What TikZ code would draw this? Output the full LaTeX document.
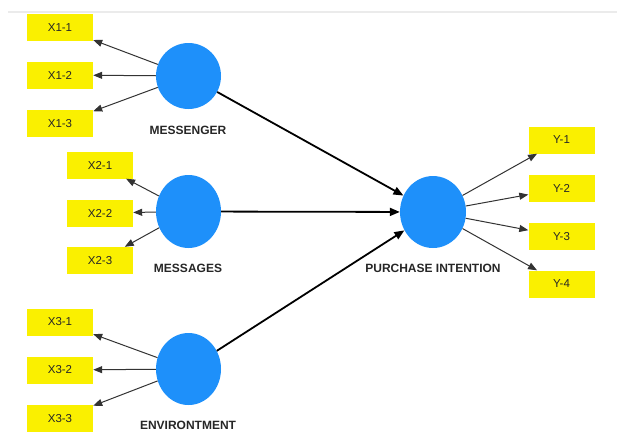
\documentclass[tikz,border=0pt]{standalone}
\usepackage{fontspec}
\setmainfont{Liberation Sans}
\usetikzlibrary{arrows.meta,shapes.geometric}
\definecolor{lvblue}{RGB}{30,144,250}
\definecolor{itemyellow}{RGB}{250,240,0}

\begin{document}
\begin{tikzpicture}[x=1pt,y=-1pt,
  latent/.style={ellipse,fill=lvblue,inner sep=0pt,minimum width=65pt,minimum height=#1},
  latent/.default=66pt,
  item/.style={fill=itemyellow,minimum width=66pt,minimum height=27pt,inner sep=0pt,font=\fontsize{11.5}{13}\selectfont,text=black!85},
  lvname/.style={font=\fontsize{12}{14}\selectfont\bfseries,text=black!85},
  load/.style={-{Triangle[length=9pt,width=7pt]},line width=1pt,black!80},
  inner/.style={-{Triangle[length=10pt,width=8pt]},line width=1.8pt}]
\useasboundingbox (0,0) rectangle (617,432);
\draw [black!8,line width=2pt] (8,12) -- (617,12);

% messenger
\node [latent] (mgr) at (188.5,76) {};
\node [lvname] (mgrlab) at (188,130) {MESSENGER};
\node [item] (x11) at (60,27.5) {X1-1};
\node [item] (x12) at (60,75) {X1-2};
\node [item] (x13) at (60,123.5) {X1-3};
\draw [load] (mgr) -- (x11);
\draw [load] (mgr) -- (x12);
\draw [load] (mgr) -- (x13);

% messages
\node [latent=73pt] (msg) at (188.5,211.5) {};
\node [lvname] (msglab) at (188,268) {MESSAGES};
\node [item] (x21) at (100,165) {X2-1};
\node [item] (x22) at (100,213) {X2-2};
\node [item] (x23) at (100,260.5) {X2-3};
\draw [load] (msg) -- (x21);
\draw [load] (msg) -- (x22);
\draw [load] (msg) -- (x23);

% environment
\node [latent=72pt] (env) at (188.5,369) {};
\node [lvname] (envlab) at (188,425) {ENVIRONTMENT};
\node [item] (x31) at (60,322) {X3-1};
\node [item] (x32) at (60,370) {X3-2};
\node [item] (x33) at (60,418.5) {X3-3};
\draw [load] (env) -- (x31);
\draw [load] (env) -- (x32);
\draw [load] (env) -- (x33);

% purchase intention
\node [latent=72pt,minimum width=66pt] (pi) at (433,212) {};
\node [lvname] (pilab) at (433,268) {PURCHASE INTENTION};
\node [item] (y1) at (561.5,140) {Y-1};
\node [item] (y2) at (561.5,188.5) {Y-2};
\node [item] (y3) at (561.5,236.5) {Y-3};
\node [item] (y4) at (561.5,284) {Y-4};
\draw [load] (pi) -- (y1);
\draw [load] (pi) -- (y2);
\draw [load] (pi) -- (y3);
\draw [load] (pi) -- (y4);

\draw [inner] (mgr) -- (pi);
\draw [inner] (msg) -- (pi);
\draw [inner] (env) -- (pi);
\end{tikzpicture}
\end{document}
